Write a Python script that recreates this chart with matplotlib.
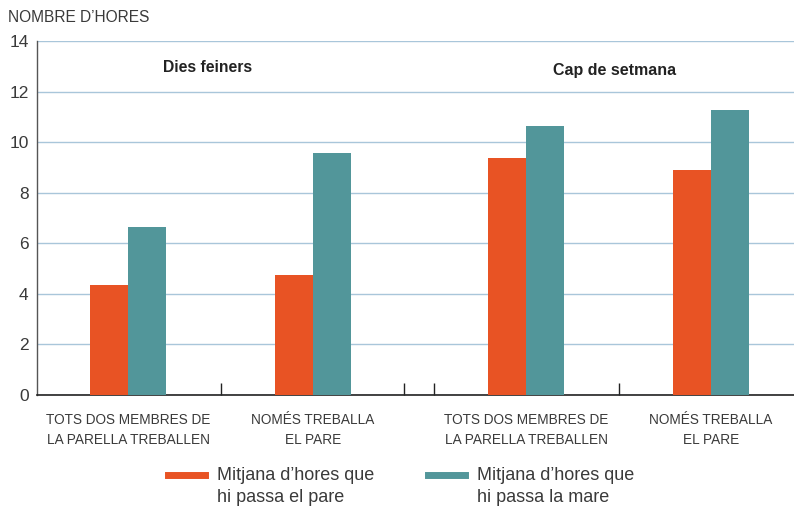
import numpy as np
import matplotlib
matplotlib.use("Agg")
import matplotlib.pyplot as plt
from matplotlib.lines import Line2D

# --- data (hours) ---
categories = ["TOTS DOS MEMBRES DE\nLA PARELLA TREBALLEN", "NOMÉS TREBALLA\nEL PARE",
              "TOTS DOS MEMBRES DE\nLA PARELLA TREBALLEN", "NOMÉS TREBALLA\nEL PARE"]
blocks = ["Dies feiners", "Cap de setmana"]
pare = [4.35, 4.75, 9.37, 8.9]
mare = [6.65, 9.57, 10.64, 11.27]
series_labels = ["Mitjana d\u2019hores que\nhi passa el pare",
                 "Mitjana d\u2019hores que\nhi passa la mare"]

ORANGE = "#e85324"
TEAL = "#52969a"
GRID = "#a9c6da"
TXT = "#3a3a3a"

plt.rcParams["font.family"] = ["Liberation Sans", "DejaVu Sans"]

fig = plt.figure(figsize=(7.94, 5.07), dpi=100)
ax = fig.add_axes([37 / 794, 1 - 395 / 507, 1 - 37 / 794, (395 - 41) / 507])

# two blocks of two groups, with a small gap between blocks
gap = 0.152
x = np.array([0, 1, 2 + gap, 3 + gap], dtype=float)
w = 0.205
ax.bar(x - w / 2, pare, w, color=ORANGE, zorder=3)
ax.bar(x + w / 2, mare, w, color=TEAL, zorder=3)

ax.set_ylim(0, 14)
ax.set_xlim(-0.492, 3.6)
ax.set_yticks(range(0, 15, 2))
ax.yaxis.grid(True, color=GRID, lw=1.0, zorder=0)
ax.tick_params(axis="y", length=0, labelsize=12.5, labelcolor=TXT, pad=6)
for s in ("top", "right"):
    ax.spines[s].set_visible(False)
ax.spines["left"].set_color("#555555")
ax.spines["bottom"].set_color("#222222")
ax.spines["left"].set_linewidth(1.0)
ax.spines["bottom"].set_linewidth(1.2)

# separator ticks on the baseline
sep = [0.5, 1.49, 1.5 + gap, 2.5 + gap]
ax.set_xticks(sep)
ax.set_xticklabels([])
ax.tick_params(axis="x", direction="in", length=9, width=1.0, color="#222222")

for xi, lab in zip(x, categories):
    ax.text(xi, -0.72, lab, ha="center", va="top", fontsize=9.8, color=TXT,
            linespacing=1.5)

ax.text(0.43, 12.95, blocks[0], ha="center", va="center", fontsize=11.3,
        fontweight="bold", color="#222222")
ax.text(2.63, 12.85, blocks[1], ha="center", va="center", fontsize=11.5,
        fontweight="bold", color="#222222")

fig.text(8 / 794, 1 - 18 / 507, "NOMBRE D\u2019HORES", ha="left", va="center",
         fontsize=11.2, color=TXT)

# legend: short thick line aligned with the first text line
for (hx, col, lab) in [(168, ORANGE, series_labels[0]), (428, TEAL, series_labels[1])]:
    yl = 1 - 475 / 507
    fig.add_artist(Line2D([hx / 794, (hx + 37) / 794], [yl, yl], color=col, lw=5,
                          transform=fig.transFigure))
    fig.text((hx + 49) / 794, 1 - 467 / 507, lab, ha="left", va="top",
             fontsize=13, color=TXT, linespacing=1.4)

fig.savefig("out.png", dpi=100)
